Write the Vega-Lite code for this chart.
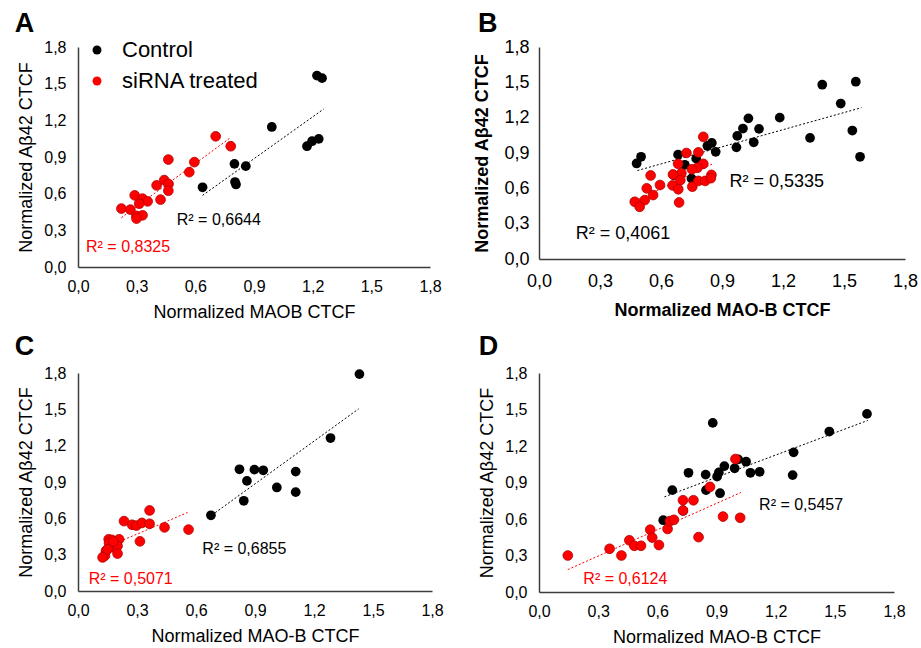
{
  "$schema": "https://vega.github.io/schema/vega-lite/v6.json",
  "background": "white",
  "padding": {"left": 14, "top": 10, "right": 0, "bottom": 0},
  "columns": 2,
  "align": "each",
  "bounds": "flush",
  "spacing": {"row": 106, "column": 107},
  "resolve": {
    "scale": {"fill": "independent", "x": "independent", "y": "independent"},
    "legend": {"fill": "independent"}
  },
  "datasets": {
    "A_pts": [
      {"g": "Control", "x": 1.222, "y": 1.566}, {"g": "Control", "x": 1.248, "y": 1.545}, {"g": "Control", "x": 0.991, "y": 1.146},
      {"g": "Control", "x": 1.171, "y": 0.988}, {"g": "Control", "x": 1.197, "y": 1.029}, {"g": "Control", "x": 1.231, "y": 1.048},
      {"g": "Control", "x": 0.800, "y": 0.844}, {"g": "Control", "x": 0.858, "y": 0.825}, {"g": "Control", "x": 0.803, "y": 0.695},
      {"g": "Control", "x": 0.808, "y": 0.675}, {"g": "Control", "x": 0.637, "y": 0.652},
      {"g": "siRNA treated", "x": 0.704, "y": 1.069}, {"g": "siRNA treated", "x": 0.781, "y": 0.988}, {"g": "siRNA treated", "x": 0.462, "y": 0.879},
      {"g": "siRNA treated", "x": 0.595, "y": 0.858}, {"g": "siRNA treated", "x": 0.569, "y": 0.776}, {"g": "siRNA treated", "x": 0.402, "y": 0.668},
      {"g": "siRNA treated", "x": 0.441, "y": 0.711}, {"g": "siRNA treated", "x": 0.463, "y": 0.679}, {"g": "siRNA treated", "x": 0.462, "y": 0.624},
      {"g": "siRNA treated", "x": 0.422, "y": 0.551}, {"g": "siRNA treated", "x": 0.290, "y": 0.586}, {"g": "siRNA treated", "x": 0.330, "y": 0.559},
      {"g": "siRNA treated", "x": 0.356, "y": 0.537}, {"g": "siRNA treated", "x": 0.313, "y": 0.518}, {"g": "siRNA treated", "x": 0.222, "y": 0.478},
      {"g": "siRNA treated", "x": 0.268, "y": 0.469}, {"g": "siRNA treated", "x": 0.299, "y": 0.418}, {"g": "siRNA treated", "x": 0.330, "y": 0.423},
      {"g": "siRNA treated", "x": 0.299, "y": 0.396}
    ],
    "A_trend": [
      {"g": "Control", "x": 0.637, "y": 0.586, "x2": 1.256, "y2": 1.292},
      {"g": "siRNA treated", "x": 0.222, "y": 0.404, "x2": 0.778, "y2": 1.056}
    ],
    "A_lab": [
      {"g": "Control", "x": 0.72, "y": 0.385, "t": "R² = 0,6644"},
      {"g": "siRNA treated", "x": 0.256, "y": 0.163, "t": "R² = 0,8325"}
    ],
    "B_pts": [
      {"g": "Control", "x": 1.393, "y": 1.480}, {"g": "Control", "x": 1.558, "y": 1.505}, {"g": "Control", "x": 1.484, "y": 1.320},
      {"g": "Control", "x": 1.541, "y": 1.091}, {"g": "Control", "x": 1.579, "y": 0.868}, {"g": "Control", "x": 1.333, "y": 1.028},
      {"g": "Control", "x": 1.184, "y": 1.200}, {"g": "Control", "x": 1.030, "y": 1.194}, {"g": "Control", "x": 1.003, "y": 1.108},
      {"g": "Control", "x": 1.082, "y": 1.105}, {"g": "Control", "x": 0.975, "y": 1.045}, {"g": "Control", "x": 1.056, "y": 0.991},
      {"g": "Control", "x": 0.971, "y": 0.948}, {"g": "Control", "x": 0.850, "y": 0.985}, {"g": "Control", "x": 0.828, "y": 0.960},
      {"g": "Control", "x": 0.869, "y": 0.910}, {"g": "Control", "x": 0.502, "y": 0.868}, {"g": "Control", "x": 0.480, "y": 0.811},
      {"g": "Control", "x": 0.684, "y": 0.886}, {"g": "Control", "x": 0.717, "y": 0.800}, {"g": "Control", "x": 0.662, "y": 0.712},
      {"g": "Control", "x": 0.750, "y": 0.683}, {"g": "Control", "x": 0.773, "y": 0.852},
      {"g": "siRNA treated", "x": 0.808, "y": 1.037}, {"g": "siRNA treated", "x": 0.725, "y": 0.900}, {"g": "siRNA treated", "x": 0.784, "y": 0.905},
      {"g": "siRNA treated", "x": 0.684, "y": 0.808}, {"g": "siRNA treated", "x": 0.808, "y": 0.808}, {"g": "siRNA treated", "x": 0.779, "y": 0.774},
      {"g": "siRNA treated", "x": 0.752, "y": 0.762}, {"g": "siRNA treated", "x": 0.700, "y": 0.728}, {"g": "siRNA treated", "x": 0.659, "y": 0.718},
      {"g": "siRNA treated", "x": 0.695, "y": 0.669}, {"g": "siRNA treated", "x": 0.657, "y": 0.625}, {"g": "siRNA treated", "x": 0.685, "y": 0.592},
      {"g": "siRNA treated", "x": 0.754, "y": 0.614}, {"g": "siRNA treated", "x": 0.784, "y": 0.663}, {"g": "siRNA treated", "x": 0.817, "y": 0.663},
      {"g": "siRNA treated", "x": 0.848, "y": 0.714}, {"g": "siRNA treated", "x": 0.845, "y": 0.686}, {"g": "siRNA treated", "x": 0.549, "y": 0.709},
      {"g": "siRNA treated", "x": 0.595, "y": 0.628}, {"g": "siRNA treated", "x": 0.530, "y": 0.600}, {"g": "siRNA treated", "x": 0.561, "y": 0.543},
      {"g": "siRNA treated", "x": 0.520, "y": 0.500}, {"g": "siRNA treated", "x": 0.471, "y": 0.486}, {"g": "siRNA treated", "x": 0.495, "y": 0.443},
      {"g": "siRNA treated", "x": 0.689, "y": 0.480}
    ],
    "B_trend": [
      {"g": "Control", "x": 0.484, "y": 0.751, "x2": 1.586, "y2": 1.285},
      {"g": "siRNA treated", "x": 0.470, "y": 0.489, "x2": 0.854, "y2": 0.808}
    ],
    "B_lab": [
      {"g": "Control", "x": 1.169, "y": 0.657, "t": "R² = 0,5335"},
      {"g": "Control", "x": 0.413, "y": 0.211, "t": "R² = 0,4061"}
    ],
    "C_pts": [
      {"g": "Control", "x": 1.431, "y": 1.791}, {"g": "Control", "x": 1.284, "y": 1.263}, {"g": "Control", "x": 1.107, "y": 0.986},
      {"g": "Control", "x": 1.107, "y": 0.816}, {"g": "Control", "x": 1.011, "y": 0.855}, {"g": "Control", "x": 0.942, "y": 0.997},
      {"g": "Control", "x": 0.897, "y": 1.002}, {"g": "Control", "x": 0.821, "y": 1.005}, {"g": "Control", "x": 0.859, "y": 0.909},
      {"g": "Control", "x": 0.843, "y": 0.745}, {"g": "Control", "x": 0.676, "y": 0.625},
      {"g": "siRNA treated", "x": 0.364, "y": 0.665}, {"g": "siRNA treated", "x": 0.234, "y": 0.577}, {"g": "siRNA treated", "x": 0.275, "y": 0.547},
      {"g": "siRNA treated", "x": 0.297, "y": 0.540}, {"g": "siRNA treated", "x": 0.325, "y": 0.562}, {"g": "siRNA treated", "x": 0.364, "y": 0.555},
      {"g": "siRNA treated", "x": 0.440, "y": 0.525}, {"g": "siRNA treated", "x": 0.562, "y": 0.507}, {"g": "siRNA treated", "x": 0.315, "y": 0.410},
      {"g": "siRNA treated", "x": 0.156, "y": 0.427}, {"g": "siRNA treated", "x": 0.172, "y": 0.422}, {"g": "siRNA treated", "x": 0.209, "y": 0.427},
      {"g": "siRNA treated", "x": 0.172, "y": 0.362}, {"g": "siRNA treated", "x": 0.201, "y": 0.372}, {"g": "siRNA treated", "x": 0.158, "y": 0.394},
      {"g": "siRNA treated", "x": 0.142, "y": 0.331}, {"g": "siRNA treated", "x": 0.201, "y": 0.309}, {"g": "siRNA treated", "x": 0.137, "y": 0.292},
      {"g": "siRNA treated", "x": 0.125, "y": 0.277}, {"g": "siRNA treated", "x": 0.180, "y": 0.408}, {"g": "siRNA treated", "x": 0.150, "y": 0.345}
    ],
    "C_trend": [
      {"g": "Control", "x": 0.681, "y": 0.627, "x2": 1.427, "y2": 1.504},
      {"g": "siRNA treated", "x": 0.231, "y": 0.422, "x2": 0.557, "y2": 0.648}
    ],
    "C_lab": [
      {"g": "Control", "x": 0.846, "y": 0.345, "t": "R² = 0,6855"},
      {"g": "siRNA treated", "x": 0.268, "y": 0.101, "t": "R² = 0,5071"}
    ],
    "D_pts": [
      {"g": "Control", "x": 1.663, "y": 1.464}, {"g": "Control", "x": 1.472, "y": 1.319}, {"g": "Control", "x": 1.291, "y": 1.148},
      {"g": "Control", "x": 1.286, "y": 0.961}, {"g": "Control", "x": 0.881, "y": 1.390}, {"g": "Control", "x": 1.119, "y": 0.988},
      {"g": "Control", "x": 1.072, "y": 0.980}, {"g": "Control", "x": 1.050, "y": 1.071}, {"g": "Control", "x": 1.010, "y": 1.090},
      {"g": "Control", "x": 0.992, "y": 1.017}, {"g": "Control", "x": 0.940, "y": 1.035}, {"g": "Control", "x": 0.912, "y": 0.983},
      {"g": "Control", "x": 0.903, "y": 0.948}, {"g": "Control", "x": 0.845, "y": 0.965}, {"g": "Control", "x": 0.758, "y": 0.980},
      {"g": "Control", "x": 0.918, "y": 0.812}, {"g": "Control", "x": 0.847, "y": 0.837}, {"g": "Control", "x": 0.676, "y": 0.837},
      {"g": "Control", "x": 0.731, "y": 0.668}, {"g": "Control", "x": 0.630, "y": 0.590},
      {"g": "siRNA treated", "x": 0.146, "y": 0.300}, {"g": "siRNA treated", "x": 0.358, "y": 0.355}, {"g": "siRNA treated", "x": 0.418, "y": 0.300},
      {"g": "siRNA treated", "x": 0.458, "y": 0.425}, {"g": "siRNA treated", "x": 0.483, "y": 0.380}, {"g": "siRNA treated", "x": 0.517, "y": 0.380},
      {"g": "siRNA treated", "x": 0.564, "y": 0.512}, {"g": "siRNA treated", "x": 0.574, "y": 0.447}, {"g": "siRNA treated", "x": 0.608, "y": 0.386},
      {"g": "siRNA treated", "x": 0.652, "y": 0.518}, {"g": "siRNA treated", "x": 0.664, "y": 0.583}, {"g": "siRNA treated", "x": 0.684, "y": 0.593},
      {"g": "siRNA treated", "x": 0.730, "y": 0.670}, {"g": "siRNA treated", "x": 0.730, "y": 0.754}, {"g": "siRNA treated", "x": 0.783, "y": 0.754},
      {"g": "siRNA treated", "x": 0.809, "y": 0.451}, {"g": "siRNA treated", "x": 0.867, "y": 0.864}, {"g": "siRNA treated", "x": 0.933, "y": 0.620},
      {"g": "siRNA treated", "x": 1.020, "y": 0.610}, {"g": "siRNA treated", "x": 0.996, "y": 1.093}
    ],
    "D_trend": [
      {"g": "Control", "x": 0.636, "y": 0.782, "x2": 1.667, "y2": 1.410},
      {"g": "siRNA treated", "x": 0.146, "y": 0.184, "x2": 1.024, "y2": 0.818}
    ],
    "D_lab": [
      {"g": "Control", "x": 1.329, "y": 0.713, "t": "R² = 0,5457"},
      {"g": "siRNA treated", "x": 0.438, "y": 0.110, "t": "R² = 0,6124"}
    ]
  },
  "concat": [
    {
      "width": 352, "height": 220,
      "title": {"text": "A", "anchor": "start", "frame": "bounds", "fontSize": 27, "fontWeight": "bold", "font": "Liberation Sans", "baseline": "alphabetic", "offset": -20, "dx": -3, "color": "#000000"},
      "layer": [
        {
          "data": {"name": "A_trend"}, "transform": [{"filter": "datum.g === 'Control'"}],
          "mark": {"type": "rule", "strokeDash": [2, 2], "strokeWidth": 1, "color": "#000000"},
          "encoding": {
            "x": {"field": "x", "type": "quantitative", "scale": {"domain": [0, 1.8], "nice": false}, "axis": {"values": [0, 0.3, 0.6, 0.9, 1.2, 1.5, 1.8], "tickCount": 10, "labelExpr": "replace(format(datum.value, '.1f'), '.', ',')", "labelOverlap": false, "title": "Normalized MAOB CTCF"}},
            "y": {"field": "y", "type": "quantitative", "scale": {"domain": [0, 1.8], "nice": false}, "axis": {"values": [0, 0.3, 0.6, 0.9, 1.2, 1.5, 1.8], "tickCount": 10, "labelExpr": "replace(format(datum.value, '.1f'), '.', ',')", "labelOverlap": false, "title": "Normalized Aβ42 CTCF"}},
            "x2": {"field": "x2"}, "y2": {"field": "y2"}
          }
        },
        {
          "data": {"name": "A_trend"}, "transform": [{"filter": "datum.g === 'siRNA treated'"}],
          "mark": {"type": "rule", "strokeDash": [2, 2], "strokeWidth": 1, "color": "#ff0000"},
          "encoding": {"x": {"field": "x", "type": "quantitative"}, "y": {"field": "y", "type": "quantitative"}, "x2": {"field": "x2"}, "y2": {"field": "y2"}}
        },
        {
          "data": {"name": "A_pts"}, "transform": [{"filter": "datum.g === 'Control'"}],
          "mark": {"type": "circle", "size": 95, "opacity": 1},
          "encoding": {
            "x": {"field": "x", "type": "quantitative"}, "y": {"field": "y", "type": "quantitative"},
            "fill": {"field": "g", "type": "nominal", "scale": {"domain": ["Control", "siRNA treated"], "range": ["#000000", "#ff0000"]},
              "legend": {"orient": "none", "legendX": 8, "legendY": -8, "title": null, "labelFont": "Liberation Sans", "labelFontSize": 22, "symbolSize": 80, "symbolType": "circle", "symbolStrokeWidth": 0, "rowPadding": 9, "labelOffset": 14, "padding": 0,
                "encode": {"labels": {"update": {"fill": {"signal": "datum.value === 'siRNA treated' ? '#ff0000' : '#000000'"}}}}}}
          }
        },
        {
          "data": {"name": "A_pts"}, "transform": [{"filter": "datum.g === 'siRNA treated'"}],
          "mark": {"type": "circle", "size": 95, "opacity": 1, "stroke": "#b00000", "strokeWidth": 0.8},
          "encoding": {
            "x": {"field": "x", "type": "quantitative"}, "y": {"field": "y", "type": "quantitative"},
            "fill": {"field": "g", "type": "nominal", "scale": {"domain": ["Control", "siRNA treated"], "range": ["#000000", "#ff0000"]},
              "legend": {"orient": "none", "legendX": 8, "legendY": -8, "title": null, "labelFont": "Liberation Sans", "labelFontSize": 22, "symbolSize": 80, "symbolType": "circle", "symbolStrokeWidth": 0, "rowPadding": 9, "labelOffset": 14, "padding": 0,
                "encode": {"labels": {"update": {"fill": {"signal": "datum.value === 'siRNA treated' ? '#ff0000' : '#000000'"}}}}}}
          }
        },
        {
          "data": {"name": "A_lab"}, "transform": [{"filter": "datum.g === 'Control'"}],
          "mark": {"type": "text", "fontSize": 16, "font": "Liberation Sans", "align": "center", "baseline": "middle", "color": "#000000"},
          "encoding": {"x": {"field": "x", "type": "quantitative"}, "y": {"field": "y", "type": "quantitative"}, "text": {"field": "t"}}
        },
        {
          "data": {"name": "A_lab"}, "transform": [{"filter": "datum.g === 'siRNA treated'"}],
          "mark": {"type": "text", "fontSize": 16, "font": "Liberation Sans", "align": "center", "baseline": "middle", "color": "#ff0000"},
          "encoding": {"x": {"field": "x", "type": "quantitative"}, "y": {"field": "y", "type": "quantitative"}, "text": {"field": "t"}}
        }
      ]
    },
    {
      "width": 366, "height": 212,
      "title": {"text": "B", "anchor": "start", "frame": "bounds", "fontSize": 27, "fontWeight": "bold", "font": "Liberation Sans", "baseline": "alphabetic", "offset": -21, "dx": 4, "color": "#000000"},
      "layer": [
        {
          "data": {"name": "B_trend"}, "transform": [{"filter": "datum.g === 'Control'"}],
          "mark": {"type": "rule", "strokeDash": [2, 2], "strokeWidth": 1, "color": "#000000"},
          "encoding": {
            "x": {"field": "x", "type": "quantitative", "scale": {"domain": [0, 1.8], "nice": false}, "axis": {"values": [0, 0.3, 0.6, 0.9, 1.2, 1.5, 1.8], "tickCount": 10, "labelExpr": "replace(format(datum.value, '.1f'), '.', ',')", "labelOverlap": false, "title": "Normalized MAO-B CTCF", "labelFontSize": 18, "titleFontWeight": "bold", "labelPadding": 13, "titlePadding": 11}},
            "y": {"field": "y", "type": "quantitative", "scale": {"domain": [0, 1.8], "nice": false}, "axis": {"values": [0, 0.3, 0.6, 0.9, 1.2, 1.5, 1.8], "tickCount": 10, "labelExpr": "replace(format(datum.value, '.1f'), '.', ',')", "labelOverlap": false, "title": "Normalized Aβ42 CTCF", "labelFontSize": 18, "titleFontWeight": "bold", "labelPadding": 10, "titlePadding": 12}},
            "x2": {"field": "x2"}, "y2": {"field": "y2"}
          }
        },
        {
          "data": {"name": "B_trend"}, "transform": [{"filter": "datum.g === 'siRNA treated'"}],
          "mark": {"type": "rule", "strokeDash": [2, 2], "strokeWidth": 1, "color": "#ff0000"},
          "encoding": {"x": {"field": "x", "type": "quantitative"}, "y": {"field": "y", "type": "quantitative"}, "x2": {"field": "x2"}, "y2": {"field": "y2"}}
        },
        {
          "data": {"name": "B_pts"}, "transform": [{"filter": "datum.g === 'Control'"}],
          "mark": {"type": "circle", "size": 95, "opacity": 1},
          "encoding": {
            "x": {"field": "x", "type": "quantitative"}, "y": {"field": "y", "type": "quantitative"},
            "fill": {"field": "g", "type": "nominal", "scale": {"domain": ["Control", "siRNA treated"], "range": ["#000000", "#ff0000"]}, "legend": null}
          }
        },
        {
          "data": {"name": "B_pts"}, "transform": [{"filter": "datum.g === 'siRNA treated'"}],
          "mark": {"type": "circle", "size": 95, "opacity": 1, "stroke": "#b00000", "strokeWidth": 0.8},
          "encoding": {
            "x": {"field": "x", "type": "quantitative"}, "y": {"field": "y", "type": "quantitative"},
            "fill": {"field": "g", "type": "nominal", "scale": {"domain": ["Control", "siRNA treated"], "range": ["#000000", "#ff0000"]}, "legend": null}
          }
        },
        {
          "data": {"name": "B_lab"},
          "mark": {"type": "text", "fontSize": 18, "font": "Liberation Sans", "align": "center", "baseline": "middle", "color": "#000000"},
          "encoding": {"x": {"field": "x", "type": "quantitative"}, "y": {"field": "y", "type": "quantitative"}, "text": {"field": "t"}}
        }
      ]
    },
    {
      "width": 354, "height": 218,
      "title": {"text": "C", "anchor": "start", "frame": "bounds", "fontSize": 27, "fontWeight": "bold", "font": "Liberation Sans", "baseline": "alphabetic", "offset": -17, "dx": -3, "color": "#000000"},
      "layer": [
        {
          "data": {"name": "C_trend"}, "transform": [{"filter": "datum.g === 'Control'"}],
          "mark": {"type": "rule", "strokeDash": [2, 2], "strokeWidth": 1, "color": "#000000"},
          "encoding": {
            "x": {"field": "x", "type": "quantitative", "scale": {"domain": [0, 1.8], "nice": false}, "axis": {"values": [0, 0.3, 0.6, 0.9, 1.2, 1.5, 1.8], "tickCount": 10, "labelExpr": "replace(format(datum.value, '.1f'), '.', ',')", "labelOverlap": false, "title": "Normalized MAO-B CTCF"}},
            "y": {"field": "y", "type": "quantitative", "scale": {"domain": [0, 1.8], "nice": false}, "axis": {"values": [0, 0.3, 0.6, 0.9, 1.2, 1.5, 1.8], "tickCount": 10, "labelExpr": "replace(format(datum.value, '.1f'), '.', ',')", "labelOverlap": false, "title": "Normalized Aβ42 CTCF"}},
            "x2": {"field": "x2"}, "y2": {"field": "y2"}
          }
        },
        {
          "data": {"name": "C_trend"}, "transform": [{"filter": "datum.g === 'siRNA treated'"}],
          "mark": {"type": "rule", "strokeDash": [2, 2], "strokeWidth": 1, "color": "#ff0000"},
          "encoding": {"x": {"field": "x", "type": "quantitative"}, "y": {"field": "y", "type": "quantitative"}, "x2": {"field": "x2"}, "y2": {"field": "y2"}}
        },
        {
          "data": {"name": "C_pts"}, "transform": [{"filter": "datum.g === 'Control'"}],
          "mark": {"type": "circle", "size": 95, "opacity": 1},
          "encoding": {
            "x": {"field": "x", "type": "quantitative"}, "y": {"field": "y", "type": "quantitative"},
            "fill": {"field": "g", "type": "nominal", "scale": {"domain": ["Control", "siRNA treated"], "range": ["#000000", "#ff0000"]}, "legend": null}
          }
        },
        {
          "data": {"name": "C_pts"}, "transform": [{"filter": "datum.g === 'siRNA treated'"}],
          "mark": {"type": "circle", "size": 95, "opacity": 1, "stroke": "#b00000", "strokeWidth": 0.8},
          "encoding": {
            "x": {"field": "x", "type": "quantitative"}, "y": {"field": "y", "type": "quantitative"},
            "fill": {"field": "g", "type": "nominal", "scale": {"domain": ["Control", "siRNA treated"], "range": ["#000000", "#ff0000"]}, "legend": null}
          }
        },
        {
          "data": {"name": "C_lab"}, "transform": [{"filter": "datum.g === 'Control'"}],
          "mark": {"type": "text", "fontSize": 16, "font": "Liberation Sans", "align": "center", "baseline": "middle", "color": "#000000"},
          "encoding": {"x": {"field": "x", "type": "quantitative"}, "y": {"field": "y", "type": "quantitative"}, "text": {"field": "t"}}
        },
        {
          "data": {"name": "C_lab"}, "transform": [{"filter": "datum.g === 'siRNA treated'"}],
          "mark": {"type": "text", "fontSize": 16, "font": "Liberation Sans", "align": "center", "baseline": "middle", "color": "#ff0000"},
          "encoding": {"x": {"field": "x", "type": "quantitative"}, "y": {"field": "y", "type": "quantitative"}, "text": {"field": "t"}}
        }
      ]
    },
    {
      "width": 355, "height": 219,
      "title": {"text": "D", "anchor": "start", "frame": "bounds", "fontSize": 27, "fontWeight": "bold", "font": "Liberation Sans", "baseline": "alphabetic", "offset": -17, "color": "#000000"},
      "layer": [
        {
          "data": {"name": "D_trend"}, "transform": [{"filter": "datum.g === 'Control'"}],
          "mark": {"type": "rule", "strokeDash": [2, 2], "strokeWidth": 1, "color": "#000000"},
          "encoding": {
            "x": {"field": "x", "type": "quantitative", "scale": {"domain": [0, 1.8], "nice": false}, "axis": {"values": [0, 0.3, 0.6, 0.9, 1.2, 1.5, 1.8], "tickCount": 10, "labelExpr": "replace(format(datum.value, '.1f'), '.', ',')", "labelOverlap": false, "title": "Normalized MAO-B CTCF"}},
            "y": {"field": "y", "type": "quantitative", "scale": {"domain": [0, 1.8], "nice": false}, "axis": {"values": [0, 0.3, 0.6, 0.9, 1.2, 1.5, 1.8], "tickCount": 10, "labelExpr": "replace(format(datum.value, '.1f'), '.', ',')", "labelOverlap": false, "title": "Normalized Aβ42 CTCF"}},
            "x2": {"field": "x2"}, "y2": {"field": "y2"}
          }
        },
        {
          "data": {"name": "D_trend"}, "transform": [{"filter": "datum.g === 'siRNA treated'"}],
          "mark": {"type": "rule", "strokeDash": [2, 2], "strokeWidth": 1, "color": "#ff0000"},
          "encoding": {"x": {"field": "x", "type": "quantitative"}, "y": {"field": "y", "type": "quantitative"}, "x2": {"field": "x2"}, "y2": {"field": "y2"}}
        },
        {
          "data": {"name": "D_pts"}, "transform": [{"filter": "datum.g === 'Control'"}],
          "mark": {"type": "circle", "size": 95, "opacity": 1},
          "encoding": {
            "x": {"field": "x", "type": "quantitative"}, "y": {"field": "y", "type": "quantitative"},
            "fill": {"field": "g", "type": "nominal", "scale": {"domain": ["Control", "siRNA treated"], "range": ["#000000", "#ff0000"]}, "legend": null}
          }
        },
        {
          "data": {"name": "D_pts"}, "transform": [{"filter": "datum.g === 'siRNA treated'"}],
          "mark": {"type": "circle", "size": 95, "opacity": 1, "stroke": "#b00000", "strokeWidth": 0.8},
          "encoding": {
            "x": {"field": "x", "type": "quantitative"}, "y": {"field": "y", "type": "quantitative"},
            "fill": {"field": "g", "type": "nominal", "scale": {"domain": ["Control", "siRNA treated"], "range": ["#000000", "#ff0000"]}, "legend": null}
          }
        },
        {
          "data": {"name": "D_lab"}, "transform": [{"filter": "datum.g === 'Control'"}],
          "mark": {"type": "text", "fontSize": 16, "font": "Liberation Sans", "align": "center", "baseline": "middle", "color": "#000000"},
          "encoding": {"x": {"field": "x", "type": "quantitative"}, "y": {"field": "y", "type": "quantitative"}, "text": {"field": "t"}}
        },
        {
          "data": {"name": "D_lab"}, "transform": [{"filter": "datum.g === 'siRNA treated'"}],
          "mark": {"type": "text", "fontSize": 16, "font": "Liberation Sans", "align": "center", "baseline": "middle", "color": "#ff0000"},
          "encoding": {"x": {"field": "x", "type": "quantitative"}, "y": {"field": "y", "type": "quantitative"}, "text": {"field": "t"}}
        }
      ]
    }
  ],
  "config": {
    "view": {"stroke": null},
    "axis": {
      "domainColor": "#3c3c3c", "domainWidth": 1.5, "ticks": false, "tickSize": 0, "grid": false,
      "labelFont": "Liberation Sans", "labelFontSize": 16, "labelColor": "#000000", "labelPadding": 11,
      "labelFlush": false, "labelOverlap": false, "labelBound": false,
      "titleFont": "Liberation Sans", "titleFontSize": 18, "titleFontWeight": "normal", "titleColor": "#000000", "titlePadding": 6
    },
    "axisX": {"titlePadding": 9},
    "axisY": {"labelPadding": 12, "titlePadding": 8}
  }
}
